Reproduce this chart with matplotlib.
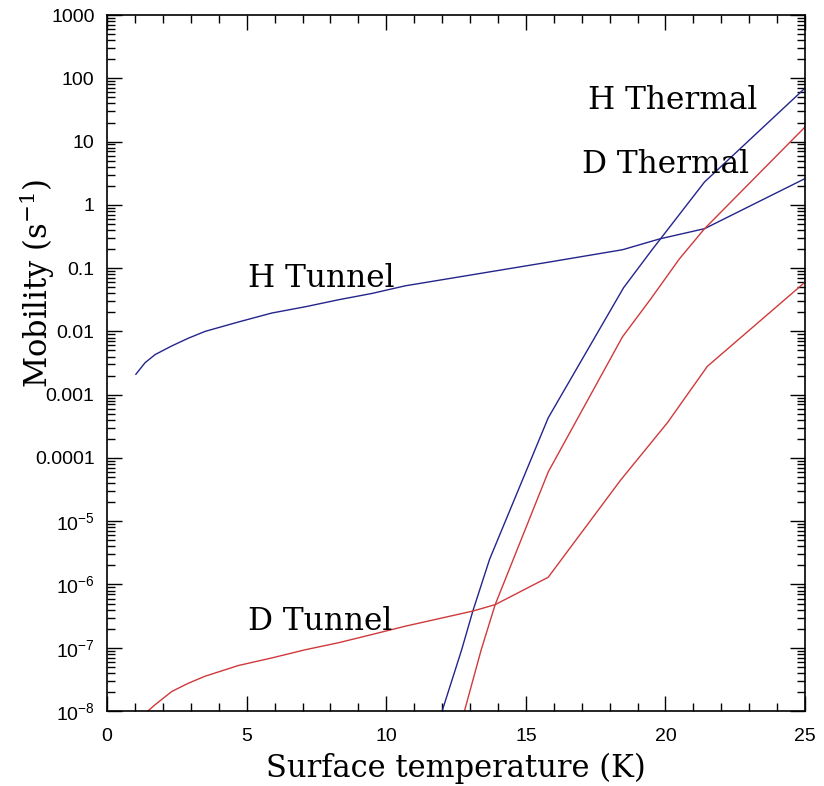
import matplotlib.pyplot as plt
import matplotlib.ticker as ticker
import numpy as np

plt.rcParams['font.family'] = 'DejaVu Sans'
plt.rcParams['mathtext.default'] = 'regular'

# data (temperature in K, mobility in s^-1)
h_tunnel_t = [1.03, 1.36, 1.72, 2.32, 2.91, 3.51, 4.71, 5.90, 7.10, 8.29, 9.49, 10.68,
              15.9, 18.46, 19.8, 21.4, 25.0]
h_tunnel_m = [0.0021, 0.0032, 0.0043, 0.0059, 0.0078, 0.0100, 0.0141, 0.0195, 0.0245,
              0.0316, 0.0398, 0.0525, 0.126, 0.195, 0.29, 0.42, 2.6]

h_thermal_t = [12.0, 12.7, 13.1, 13.7, 15.8, 18.5, 19.5, 21.4, 25.0]
h_thermal_m = [1e-8, 9.3e-8, 3.8e-7, 2.5e-6, 4.3e-4, 0.049, 0.19, 2.3, 70.0]

d_thermal_t = [12.8, 13.4, 13.9, 15.8, 18.46, 19.46, 20.5, 21.4, 25.0]
d_thermal_m = [1e-8, 9.3e-8, 4.8e-7, 6e-5, 0.0082, 0.032, 0.14, 0.42, 17.0]

d_tunnel_t = [1.46, 1.72, 2.32, 2.91, 3.51, 4.71, 5.90, 7.10, 8.29, 9.49, 10.68, 13.1, 13.9,
              15.8, 18.4, 20.07, 21.5, 25.0]
d_tunnel_m = [1.0e-8, 1.26e-8, 2.04e-8, 2.75e-8, 3.55e-8, 5.25e-8, 6.9e-8, 9.3e-8, 1.2e-7,
              1.62e-7, 2.19e-7, 3.8e-7, 4.8e-7, 1.3e-6, 4.5e-5, 3.6e-4, 2.8e-3, 0.06]

ytick_vals = [1e-8, 1e-7, 1e-6, 1e-5, 1e-4, 1e-3, 1e-2, 1e-1, 1, 10, 100, 1000]
ytick_labels = [r'$10^{-8}$', r'$10^{-7}$', r'$10^{-6}$', r'$10^{-5}$', '0.0001', '0.001',
                '0.01', '0.1', '1', '10', '100', '1000']

blue = '#24248c'
red = '#d0393b'

fig = plt.figure(figsize=(8.24, 7.86), dpi=100)
ax = fig.add_axes([0.130, 0.0954, 0.847, 0.8855])

ax.plot(h_tunnel_t, h_tunnel_m, color=blue, lw=1.0)
ax.plot(h_thermal_t, h_thermal_m, color=blue, lw=1.0)
ax.plot(d_thermal_t, d_thermal_m, color=red, lw=1.0)
ax.plot(d_tunnel_t, d_tunnel_m, color=red, lw=1.0)

ax.set_yscale('log')
ax.set_xlim(0, 25)
ax.set_ylim(1e-8, 1000)

ax.set_yticks(ytick_vals)
ax.set_yticklabels(ytick_labels)
ax.yaxis.set_minor_locator(ticker.LogLocator(base=10, subs=np.arange(2, 10), numticks=20))
ax.yaxis.set_minor_formatter(ticker.NullFormatter())
ax.xaxis.set_major_locator(ticker.MultipleLocator(5))
ax.xaxis.set_minor_locator(ticker.MultipleLocator(1))

ax.tick_params(which='both', direction='in', top=True, right=True, width=1.0, color='black')
ax.tick_params(which='major', length=11)
ax.tick_params(which='minor', length=6)
ax.tick_params(axis='y', which='major', labelsize=14, pad=9)
ax.tick_params(axis='x', which='major', labelsize=14, pad=12)
for lab in ax.get_xticklabels() + ax.get_yticklabels():
    lab.set_fontfamily('Liberation Sans')
for s in ax.spines.values():
    s.set_linewidth(1.2)

ax.set_xlabel('Surface temperature (K)', family='DejaVu Serif', fontsize=22, labelpad=6)
# y label sits above the axis centre in the original
fig.text(37 / 824, 1 - 283 / 786, r'Mobility (s$^{-1}$)', family='DejaVu Serif', fontsize=22,
         rotation=90, ha='center', va='center')

ax.text(5.05, 0.0505, 'H Tunnel', family='DejaVu Serif', fontsize=22.5, va='baseline', ha='left')
ax.text(5.05, 1.92e-7, 'D Tunnel', family='DejaVu Serif', fontsize=22.5, va='baseline', ha='left')
ax.text(17.23, 32.7, 'H Thermal', family='DejaVu Serif', fontsize=22.5, va='baseline', ha='left')
ax.text(17.01, 3.19, 'D Thermal', family='DejaVu Serif', fontsize=22.5, va='baseline', ha='left')

plt.savefig('out.png', dpi=100)
